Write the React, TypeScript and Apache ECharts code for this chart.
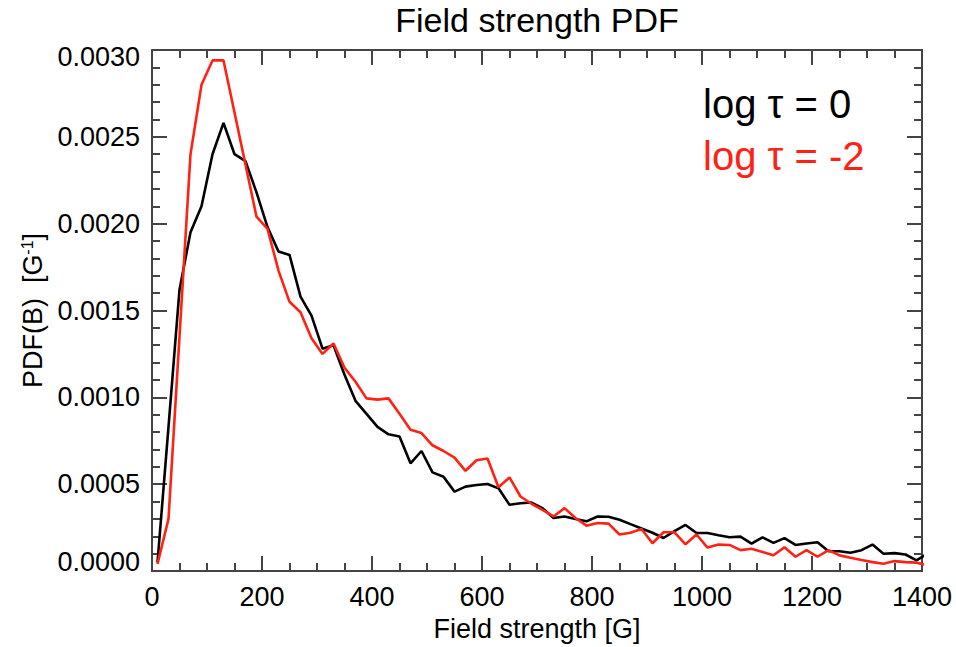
import React, { useEffect, useRef } from "react";
import * as echarts from "echarts";

// Bin centres of the field-strength histogram [G]
const binCenters = [
  10, 30, 50, 70, 90, 110, 130, 150, 170, 190, 210, 230, 250, 270, 290, 310, 330, 350, 370, 390,
  410, 430, 450, 470, 490, 510, 530, 550, 570, 590, 610, 630, 650, 670, 690, 710, 730, 750, 770, 790,
  810, 830, 850, 870, 890, 910, 930, 950, 970, 990, 1010, 1030, 1050, 1070, 1090, 1110, 1130, 1150, 1170, 1190,
  1210, 1230, 1250, 1270, 1290, 1310, 1330, 1350, 1370, 1390, 1410,
];

// PDF values in units of 1e-4 G^-1
const pdfLogTau0 = [
  0.5, 8.3, 16.2, 19.5, 21.0, 24.0, 25.8, 24.0, 23.6, 21.8, 19.8, 18.4, 18.2, 15.8, 14.7, 12.8, 13.0, 11.3, 9.8, 9.05,
  8.3, 7.87, 7.75, 6.2, 6.91, 5.68, 5.43, 4.57, 4.86, 4.95, 5.01, 4.76, 3.81, 3.9, 3.94, 3.62, 3.05, 3.14, 2.99, 2.86,
  3.14, 3.12, 2.95, 2.7, 2.45, 2.2, 1.9, 2.29, 2.65, 2.19, 2.19, 2.06, 1.94, 1.98, 1.58, 1.94, 1.62, 1.89, 1.5, 1.58,
  1.66, 1.14, 1.14, 1.05, 1.2, 1.52, 0.99, 1.03, 0.95, 0.61, 1.0,
];

const pdfLogTauM2 = [
  0.4, 3.0, 13.5, 24.0, 28.0, 29.4, 29.4, 26.4, 23.4, 20.4, 19.7, 17.3, 15.5, 14.9, 13.4, 12.5, 13.1, 11.7, 10.9, 9.94,
  9.87, 9.94, 9.05, 8.13, 7.94, 7.24, 6.91, 6.53, 5.77, 6.38, 6.48, 4.82, 5.39, 4.29, 3.87, 3.52, 3.14, 3.62, 3.05, 2.61,
  2.76, 2.73, 2.1, 2.2, 2.42, 1.6, 2.23, 2.23, 1.54, 2.1, 1.35, 1.52, 1.5, 1.2, 1.28, 1.1, 0.91, 1.37, 0.82, 1.2,
  0.82, 1.2, 0.9, 0.76, 0.63, 0.51, 0.42, 0.57, 0.51, 0.48, 0.33,
];

const xTickMin = 0;
const xTickMax = 1400;
const yTickMin = 0;
const yTickMax = 0.003;

const UNIT = 1e-4;
const FONT = "Liberation Sans, Arial, Helvetica, sans-serif";
const AXIS_COLOR = "#444";
const RED = "#ff2214";

export default function App() {
  const ref = useRef<HTMLDivElement>(null);

  useEffect(() => {
    if (!ref.current) return;
    const chart = echarts.init(ref.current, undefined, { renderer: "svg" });

    const tickCommon = {
      axisLine: { show: true, onZero: false, lineStyle: { color: AXIS_COLOR, width: 2 } },
      axisTick: { show: true, inside: true, length: 15, lineStyle: { color: AXIS_COLOR, width: 2 } },
      splitLine: { show: false },
      minorSplitLine: { show: false },
    };
    const minor = (n: number) => ({
      show: true,
      splitNumber: n,
      length: 8,
      lineStyle: { color: AXIS_COLOR, width: 2 },
    });

    const xBase = { type: "value", min: xTickMin, max: xTickMax, interval: 200, ...tickCommon, minorTick: minor(4) };
    const yBase = { type: "value", min: yTickMin, max: yTickMax, interval: 0.0005, ...tickCommon, minorTick: minor(5) };

    const toPairs = (vals: number[]) => binCenters.map((x, i) => [x, vals[i] * UNIT]);

    const lblStyle = { fontFamily: FONT, fontSize: 27, color: "#000" };

    chart.setOption({
      animation: false,
      backgroundColor: "#fff",
      textStyle: { fontFamily: FONT },
      grid: { left: 152, right: 34, top: 50, bottom: 72, containLabel: false },
      xAxis: [
        {
          ...xBase,
          position: "bottom",
          axisLabel: { ...lblStyle, margin: 12, formatter: (v: number) => String(v) },
          name: "Field strength [G]",
          nameLocation: "middle",
          nameGap: 44,
          nameTextStyle: { ...lblStyle },
        },
        {
          ...xBase,
          position: "top",
          axisLabel: { show: false },
        },
      ],
      yAxis: [
        {
          ...yBase,
          position: "left",
          axisLabel: {
            ...lblStyle,
            margin: 12,
            formatter: (v: number) => {
              const s = v.toFixed(4);
              if (v >= yTickMax - 1e-9) return "{mx|" + s + "}";
              if (v <= yTickMin + 1e-9) return "{mn|" + s + "}";
              return s;
            },
            rich: {
              mx: { ...lblStyle, padding: [13, 0, 0, 0] },
              mn: { ...lblStyle, padding: [0, 0, 18, 0] },
            },
          },
          name: "{a|PDF(B)  [G}{s|-1}{a|]}",
          nameLocation: "middle",
          nameGap: 106,
          nameTextStyle: {
            color: "#000",
            rich: {
              a: { fontFamily: FONT, fontSize: 27, color: "#000" },
              s: { fontFamily: FONT, fontSize: 16, color: "#000", verticalAlign: "top" },
            },
          },
        },
        {
          ...yBase,
          position: "right",
          axisLabel: { show: false },
        },
      ],
      graphic: [
        {
          type: "text",
          x: 537,
          y: 20,
          style: {
            text: "Field strength PDF",
            fontFamily: FONT,
            fontSize: 34,
            fill: "#000",
            align: "center",
            verticalAlign: "middle",
          },
        },
        {
          type: "text",
          left: 703,
          top: 84,
          style: { text: "log τ = 0", fontFamily: FONT, fontSize: 40, fill: "#000" },
        },
        {
          type: "text",
          left: 703,
          top: 136,
          style: { text: "log τ = -2", fontFamily: FONT, fontSize: 40, fill: RED },
        },
      ],
      series: [
        {
          name: "log τ = 0",
          type: "line",
          xAxisIndex: 0,
          yAxisIndex: 0,
          data: toPairs(pdfLogTau0),
          showSymbol: false,
          symbol: "none",
          lineStyle: { color: "#000", width: 2.6 },
          clip: true,
          z: 3,
        },
        {
          name: "log τ = -2",
          type: "line",
          xAxisIndex: 0,
          yAxisIndex: 0,
          data: toPairs(pdfLogTauM2),
          showSymbol: false,
          symbol: "none",
          lineStyle: { color: RED, width: 2.6 },
          clip: true,
          z: 4,
        },
      ],
    });

    return () => chart.dispose();
  }, []);

  return (
    <div
      ref={ref}
      style={{ position: "fixed", left: 0, top: 0, width: 956, height: 647, background: "#fff" }}
    />
  );
}
